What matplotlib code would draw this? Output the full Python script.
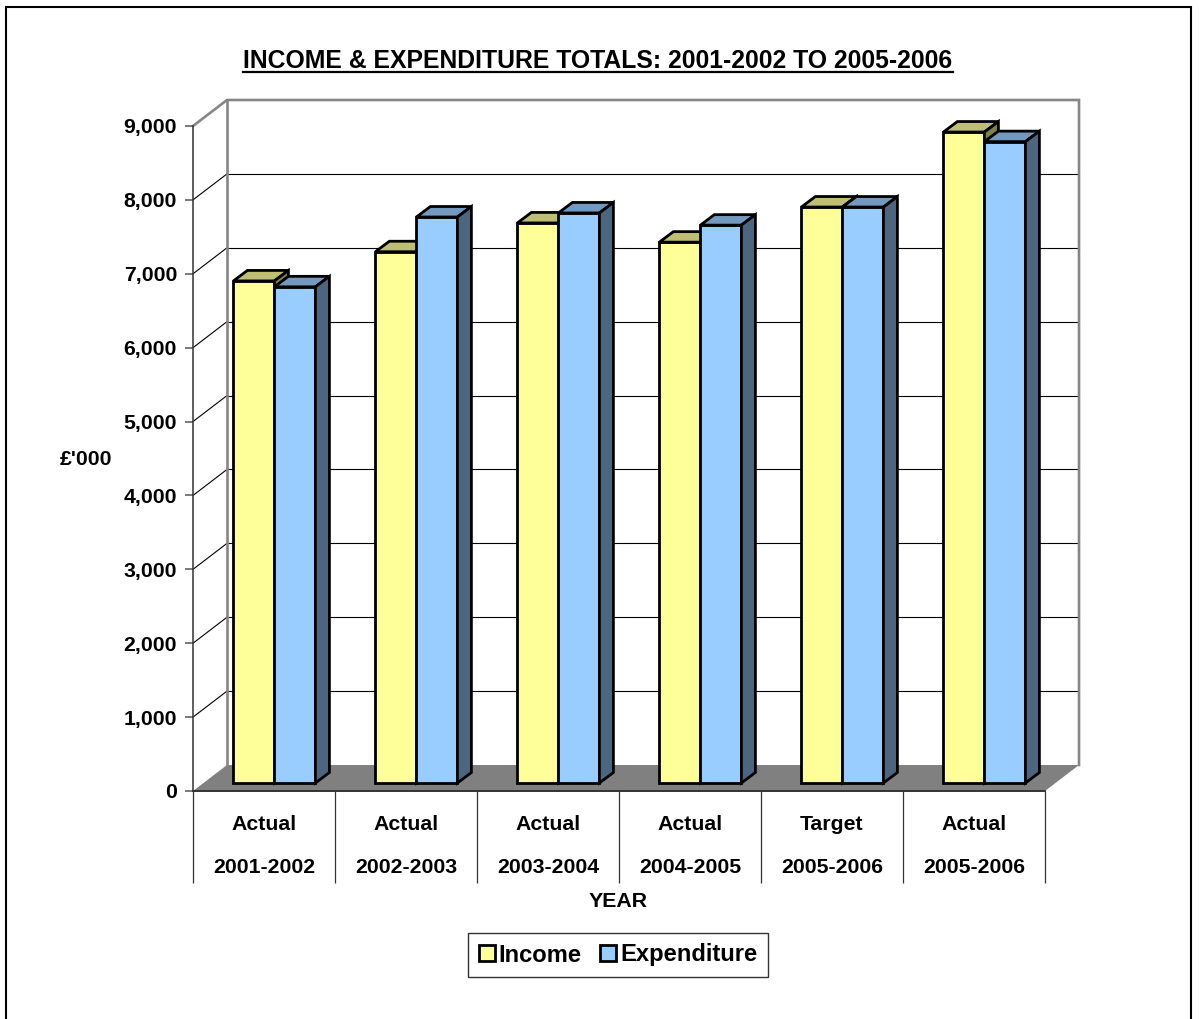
import matplotlib
matplotlib.use("Agg")
from matplotlib import pyplot as plt
from matplotlib.lines import Line2D
from matplotlib.patches import Patch, Rectangle

plt.rcParams['font.family'] = ['Liberation Sans', 'DejaVu Sans']
plt.rcParams['font.weight'] = 'bold'

status = ["Actual", "Actual", "Actual", "Actual", "Target", "Actual"]
years = ["2001-2002", "2002-2003", "2003-2004", "2004-2005", "2005-2006", "2005-2006"]
income = [6795, 7190, 7580, 7320, 7795, 8810]
expenditure = [6715, 7660, 7715, 7550, 7795, 8680]
value_ticks = [0, 1000, 2000, 3000, 4000, 5000, 6000, 7000, 8000, 9000]

W, H = 1199, 1019
# front plane of the chart box, in pixels
LEFT, RIGHT, BASE, TOP = 193, 1045, 791, 126
PX_X = 6 / (RIGHT - LEFT)
PX_Y = 9000 / (BASE - TOP)

# depth of the box and of the bars
DEPTH_X = 34 * PX_X
DEPTH_Y = 26 * PX_Y
BAR_W = 41 * PX_X
BAR_DX = 14 * PX_X
BAR_DY = 10.5 * PX_Y
LIFT = 8 * PX_Y
GROUP_SHIFT = 10.4 * PX_X

YELLOW = ("#FFFF99", "#BFBF73", "#80804D")
BLUE = ("#99CCFF", "#7399BF", "#4D6680")
EDGE = 2.0


def draw_bar(ax, x, value, colours, z):
    ax.bar(x, value, BAR_W, bottom=LIFT, align='edge', color=colours[0],
           edgecolor='k', linewidth=EDGE, zorder=z, clip_on=False)
    top = value + LIFT
    ax.fill([x, x + BAR_W, x + BAR_W + BAR_DX, x + BAR_DX],
            [top, top, top + BAR_DY, top + BAR_DY],
            facecolor=colours[1], edgecolor='k', linewidth=EDGE, zorder=z,
            clip_on=False, joinstyle='miter')
    ax.fill([x + BAR_W, x + BAR_W + BAR_DX, x + BAR_W + BAR_DX, x + BAR_W],
            [LIFT, LIFT + BAR_DY, top + BAR_DY, top],
            facecolor=colours[2], edgecolor='k', linewidth=EDGE, zorder=z,
            clip_on=False, joinstyle='miter')


def main():
    fig = plt.figure(figsize=(W / 100, H / 100), dpi=100, facecolor='white')

    # outer frame runs off the bottom edge
    fig.add_artist(Rectangle((6 / W, -0.02), 1185 / W, 1.02 - 7 / H, fill=False,
                             edgecolor='k', linewidth=1.5, transform=fig.transFigure))

    ax = fig.add_axes([LEFT / W, (H - BASE) / H, (RIGHT - LEFT) / W, (BASE - TOP) / H])
    ax.set_xlim(0, 6)
    ax.set_ylim(0, 9000)
    ax.patch.set_visible(False)
    for side in ['top', 'right']:
        ax.spines[side].set_visible(False)
    ax.spines['left'].set_color('#333333')
    ax.spines['bottom'].set_color('#333333')
    ax.spines['left'].set_linewidth(1.1)
    ax.spines['bottom'].set_linewidth(1.4)
    ax.spines['left'].set_zorder(2)
    ax.spines['bottom'].set_zorder(2)

    # floor
    ax.fill([0, 6, 6 + DEPTH_X, DEPTH_X], [0, 0, DEPTH_Y, DEPTH_Y],
            facecolor='#808080', edgecolor='none', zorder=1, clip_on=False)

    # gridlines on the back wall and the left wall
    for v in value_ticks[1:-1]:
        ax.plot([DEPTH_X, 6 + DEPTH_X], [v + DEPTH_Y, v + DEPTH_Y], color='k',
                linewidth=0.8, zorder=1, clip_on=False)
        ax.plot([0, DEPTH_X], [v, v + DEPTH_Y], color='k', linewidth=0.8,
                zorder=1, clip_on=False)

    # grey wall outline
    wall_x = [0, DEPTH_X, 6 + DEPTH_X, 6 + DEPTH_X]
    wall_y = [9000, 9000 + DEPTH_Y, 9000 + DEPTH_Y, DEPTH_Y]
    ax.plot(wall_x, wall_y, color='#868686', linewidth=1.9, zorder=1, clip_on=False,
            solid_joinstyle='miter')
    ax.plot([DEPTH_X, DEPTH_X], [DEPTH_Y, 9000 + DEPTH_Y], color='#868686',
            linewidth=1.9, zorder=1, clip_on=False)

    for i in range(len(years)):
        x0 = i + 0.5 + GROUP_SHIFT - BAR_W
        draw_bar(ax, x0, income[i], YELLOW, 3 + 2 * i)
        draw_bar(ax, x0 + BAR_W, expenditure[i], BLUE, 4 + 2 * i)

    ax.set_yticks(value_ticks)
    ax.set_yticklabels([f"{v:,}" for v in value_ticks], fontsize=15.3, fontweight='bold')
    ax.tick_params(axis='y', length=6, width=1.3, color='#6e6e6e', pad=5.5)

    ax.set_xticks(range(7))
    ax.set_xticklabels([])
    ax.tick_params(axis='x', which='major', length=66, width=0.9, color='#333333')
    ax.set_xticks([i + 0.5 for i in range(6)], minor=True)
    ax.set_xticklabels([f"{a}\n{b}" for a, b in zip(status, years)], minor=True,
                       fontsize=15.3, fontweight='bold', linespacing=2.65)
    ax.tick_params(axis='x', which='minor', length=0, pad=17)

    fig.text(85.5 / W, 1 - 459.5 / H, "£'000", ha='center', va='center', fontsize=15.3)
    fig.text(618 / W, 1 - 901.5 / H, "YEAR", ha='center', va='center', fontsize=15.3)

    title = fig.text(598 / W, 1 - 61.5 / H, "INCOME & EXPENDITURE TOTALS: 2001-2002 TO 2005-2006",
                     ha='center', va='center', fontsize=17.85)
    box = title.get_window_extent(fig.canvas.get_renderer())
    fig.add_artist(Line2D([box.x0 / W, box.x1 / W], [1 - 72 / H, 1 - 72 / H],
                          color='k', linewidth=1.6))

    handles = [Patch(facecolor=YELLOW[0], edgecolor='k', linewidth=EDGE, label="Income"),
               Patch(facecolor=BLUE[0], edgecolor='k', linewidth=EDGE, label="Expenditure")]
    leg = fig.legend(handles=handles, loc='center', bbox_to_anchor=(618 / W, 1 - 955 / H),
                     ncol=2, fontsize=17.1, frameon=True, fancybox=False, framealpha=1,
                     edgecolor='#333333', handlelength=0.66, handleheight=0.66,
                     handletextpad=0.16, columnspacing=0.8, borderpad=0.46, borderaxespad=0)
    leg.get_frame().set_linewidth(1.0)

    fig.savefig("out.png", dpi=100)


if __name__ == "__main__":
    main()
